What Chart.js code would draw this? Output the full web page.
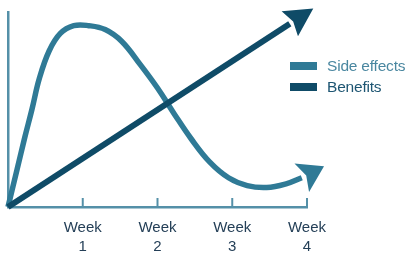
<!DOCTYPE html>
<html>
<head>
<meta charset="utf-8">
<script src="https://cdn.jsdelivr.net/npm/chart.js@4/dist/chart.umd.min.js"></script>
<style>
  html, body { margin:0; padding:0; background:#fff; }
  #wrap { position:relative; width:409px; height:256px; overflow:hidden; }
  #chart { position:absolute; left:0; top:0; }
  .legend { position:absolute; left:290px; top:55px; font-family:'Liberation Sans', Arial, sans-serif; font-size:15.5px; letter-spacing:-0.2px; }
  .legend .row { display:flex; align-items:center; height:21px; }
  .legend .box { width:27px; height:8px; margin-right:10px; }
</style>
</head>
<body>
<div id="wrap">
  <canvas id="chart" width="409" height="256"></canvas>
  <div class="legend" id="legend"></div>
</div>
<script>
// dados (x = semanas, y = intensidade 0..100)
const seriesNames = ['Side effects', 'Benefits'];
const sideX = [0, 0.12, 0.22, 0.32, 0.42, 0.55, 0.70, 0.88, 1.08, 1.30, 1.52, 1.77, 2.00, 2.22, 2.45, 2.70, 2.95, 3.20, 3.46, 3.73, 3.93];
const sideY = [0, 19, 35, 50, 66, 80, 89, 93, 93, 91, 85, 73, 61, 48, 35, 23, 15, 11, 10, 12, 15];
const benefitX = [0, 3.77];
const benefitY = [0, 94];
const weekTicks = [1, 2, 3, 4];
const weekLabels = [['Week', '1'], ['Week', '2'], ['Week', '3'], ['Week', '4']];

const colSide = '#2f7a96';
const colBen = '#0f4b67';
const colAxis = '#5490a8';

const toPts = (xs, ys) => xs.map((x, i) => ({ x, y: ys[i] }));

// ponta de seta no fim de cada linha, na direção do último segmento
const arrowPlugin = {
  id: 'arrows',
  afterDatasetsDraw(chart) {
    const ctx = chart.ctx;
    const metas = chart.getSortedVisibleDatasetMetas().slice().reverse();
    metas.forEach(meta => {
      const ds = chart.data.datasets[meta.index];
      const pts = meta.data;
      if (pts.length < 2) return;
      const a = pts[pts.length - 2], b = pts[pts.length - 1];
      const ang = Math.atan2(b.y - a.y, b.x - a.x) + (ds.arrowTilt || 0);
      const L = ds.arrowLength, W = ds.arrowWidth, N = ds.arrowNotch;
      const cos = Math.cos(ang), sin = Math.sin(ang);
      const tip = { x: b.x + L * cos, y: b.y + L * sin };
      const back = (d, s) => ({ x: b.x - d * cos - s * sin, y: b.y - d * sin + s * cos });
      const c1 = back(0, W), c2 = back(0, -W), notch = back(-N, 0);
      ctx.save();
      ctx.fillStyle = ds.borderColor;
      ctx.beginPath();
      ctx.moveTo(tip.x, tip.y);
      ctx.lineTo(c1.x, c1.y);
      ctx.lineTo(notch.x, notch.y);
      ctx.lineTo(c2.x, c2.y);
      ctx.closePath();
      ctx.fill();
      ctx.restore();
    });
  }
};

// marcas das semanas voltadas para dentro do gráfico
const innerTicks = {
  id: 'innerTicks',
  beforeDatasetsDraw(chart) {
    const { ctx, chartArea, scales } = chart;
    ctx.save();
    ctx.strokeStyle = colAxis;
    ctx.lineWidth = 2;
    weekTicks.forEach(v => {
      const x = scales.x.getPixelForValue(v);
      ctx.beginPath();
      ctx.moveTo(x, chartArea.bottom - 9);
      ctx.lineTo(x, chartArea.bottom);
      ctx.stroke();
    });
    ctx.restore();
  }
};

new Chart(document.getElementById('chart').getContext('2d'), {
  type: 'line',
  data: {
    datasets: [
      { label: seriesNames[0], data: toPts(sideX, sideY), borderColor: colSide, backgroundColor: colSide,
        borderWidth: 5.5, pointRadius: 0, tension: 0.4, clip: false, order: 1,
        arrowLength: 25, arrowWidth: 16, arrowNotch: 5, arrowTilt: -0.1 },
      { label: seriesNames[1], data: toPts(benefitX, benefitY), borderColor: colBen, backgroundColor: colBen,
        borderWidth: 6, pointRadius: 0, clip: false, order: 0,
        arrowLength: 28, arrowWidth: 15, arrowNotch: 4 }
    ]
  },
  options: {
    responsive: false,
    animation: false,
    layout: { padding: { left: 8, right: 102, top: 12, bottom: -12 } },
    plugins: { legend: { display: false }, tooltip: { enabled: false } },
    scales: {
      x: {
        type: 'linear', min: 0, max: 4,
        afterBuildTicks: s => { s.ticks = weekTicks.map(v => ({ value: v })); },
        grid: { display: false, drawTicks: false },
        border: { display: true, color: colAxis, width: 2.5 },
        ticks: {
          autoSkip: false, maxRotation: 0, padding: 11, color: '#243f57',
          font: { family: "'Liberation Sans', Arial, sans-serif", size: 15, lineHeight: 1.3 },
          callback: v => weekLabels[weekTicks.indexOf(v)] || ''
        }
      },
      y: {
        min: 0, max: 100,
        grid: { display: false, drawTicks: false },
        border: { display: true, color: colAxis, width: 2.5 },
        ticks: { display: false }
      }
    }
  },
  plugins: [innerTicks, arrowPlugin]
});

// legenda em HTML
const legendColors = [colSide, colBen];
const legendText = ['#4a87a0', '#1d5572'];
document.getElementById('legend').innerHTML = seriesNames.map((n, i) =>
  `<div class="row"><span class="box" style="background:${legendColors[i]}"></span><span style="color:${legendText[i]}">${n}</span></div>`
).join('');
</script>
</body>
</html>
